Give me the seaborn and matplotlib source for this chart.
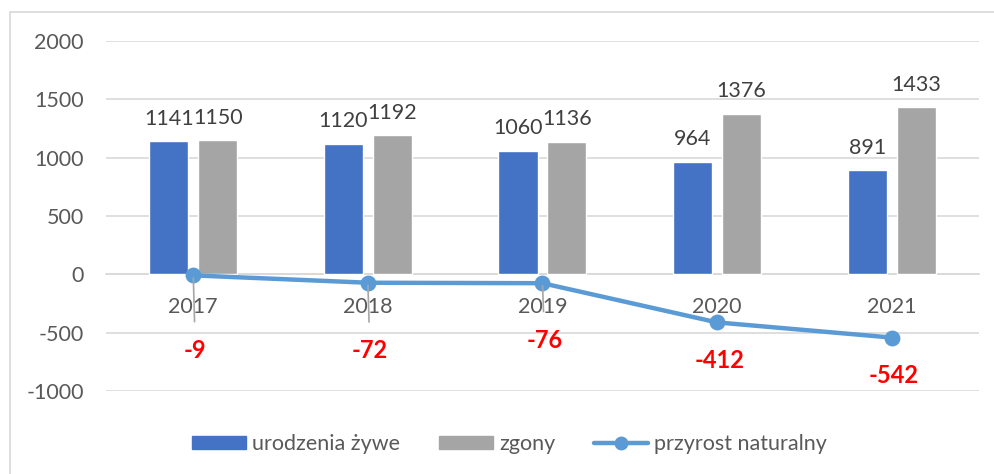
import pandas as pd
import matplotlib.pyplot as plt
import matplotlib.patches as mpatches
from matplotlib.lines import Line2D
import seaborn as sns

# Data
years = ['2017', '2018', '2019', '2020', '2021']
births = [1141, 1120, 1060, 964, 891]
deaths = [1150, 1192, 1136, 1376, 1433]
growth = [-9, -72, -76, -412, -542]

series_names = ['urodzenia żywe', 'zgony', 'przyrost naturalny']
colors = ['#4472C4', '#A5A5A5', '#5B9BD5']

# label placement for the growth values (pixels below the point)
growth_label_offsets = [75, 68, 57, 38, 38]

sns.set_style('white')
plt.rcParams['font.family'] = ['Lato', 'DejaVu Sans']
plt.rcParams['axes.unicode_minus'] = False

bars = pd.DataFrame({
    'rok': years * 2,
    'seria': [series_names[0]] * len(years) + [series_names[1]] * len(years),
    'wartosc': births + deaths,
})
line = pd.DataFrame({'rok': years, 'wartosc': growth})

fig = plt.figure(figsize=(9.95, 4.74), dpi=100)
ax = fig.add_axes([0.1065, 0.1751, 0.8774, 0.7384])

# Bars
sns.barplot(data=bars, x='rok', y='wartosc', hue='seria', order=years,
            hue_order=series_names[:2], palette=colors[:2], width=0.56,
            gap=0.2, saturation=1, legend=False, ax=ax, zorder=2)

for cont in ax.containers:
    ax.bar_label(cont, fmt='%d', padding=9, fontsize=15.5, color='#404040')

# Line
sns.pointplot(data=line, x='rok', y='wartosc', order=years, color=colors[2],
              markers='o', markersize=9, linewidth=3.2, errorbar=None,
              ax=ax, zorder=4)

# Growth labels, with leader lines for the labels far from their points
px = 72 / 100
for i, (v, off) in enumerate(zip(growth, growth_label_offsets)):
    arrow = None
    if off > 45:
        arrow = dict(arrowstyle='-', color='#A6A6A6', lw=1.2,
                     shrinkA=10, shrinkB=2)
    ax.annotate(str(v), xy=(i, v), xytext=(1.5, -off * px),
                textcoords='offset points', ha='center', va='center',
                fontsize=17, fontweight='bold', color='#FF0000',
                arrowprops=arrow, zorder=5)

# Axes styling
ax.set_ylim(-1000, 2000)
ax.set_xlim(-0.5, 4.5)
ax.set_yticks([-1000, -500, 0, 500, 1000, 1500, 2000])
ax.yaxis.grid(True, color='#D9D9D9', linewidth=1.2, zorder=0)
ax.set_axisbelow(True)
for side in ['left', 'right', 'top']:
    ax.spines[side].set_visible(False)
ax.spines['bottom'].set_position(('data', 0))
ax.spines['bottom'].set_color('#D9D9D9')
ax.spines['bottom'].set_linewidth(1.2)
ax.spines['bottom'].set_zorder(1)
ax.tick_params(axis='y', length=0, pad=16, labelsize=15.5, labelcolor='#595959')
ax.tick_params(axis='x', length=0, pad=16, labelsize=15.5, labelcolor='#595959')
ax.set_xlabel('')
ax.set_ylabel('')

# Legend
handles = [
    mpatches.Patch(color=colors[0]),
    mpatches.Patch(color=colors[1]),
    Line2D([], [], color=colors[2], lw=3.2, marker='o', markersize=9),
]
fig.legend(handles, series_names, loc='center', bbox_to_anchor=(0.512, 0.063),
           ncol=3, frameon=False, fontsize=15.5, labelcolor='#595959',
           handlelength=2.5, handleheight=0.6, handletextpad=0.3,
           columnspacing=1.8)

# Chart area border
fig.patches.append(mpatches.Rectangle((10 / 995, -0.1), 1.5, 0.9747 + 0.1,
                                      transform=fig.transFigure, fill=False,
                                      edgecolor='#D9D9D9', linewidth=1.2))

fig.savefig('out.png', dpi=100)
